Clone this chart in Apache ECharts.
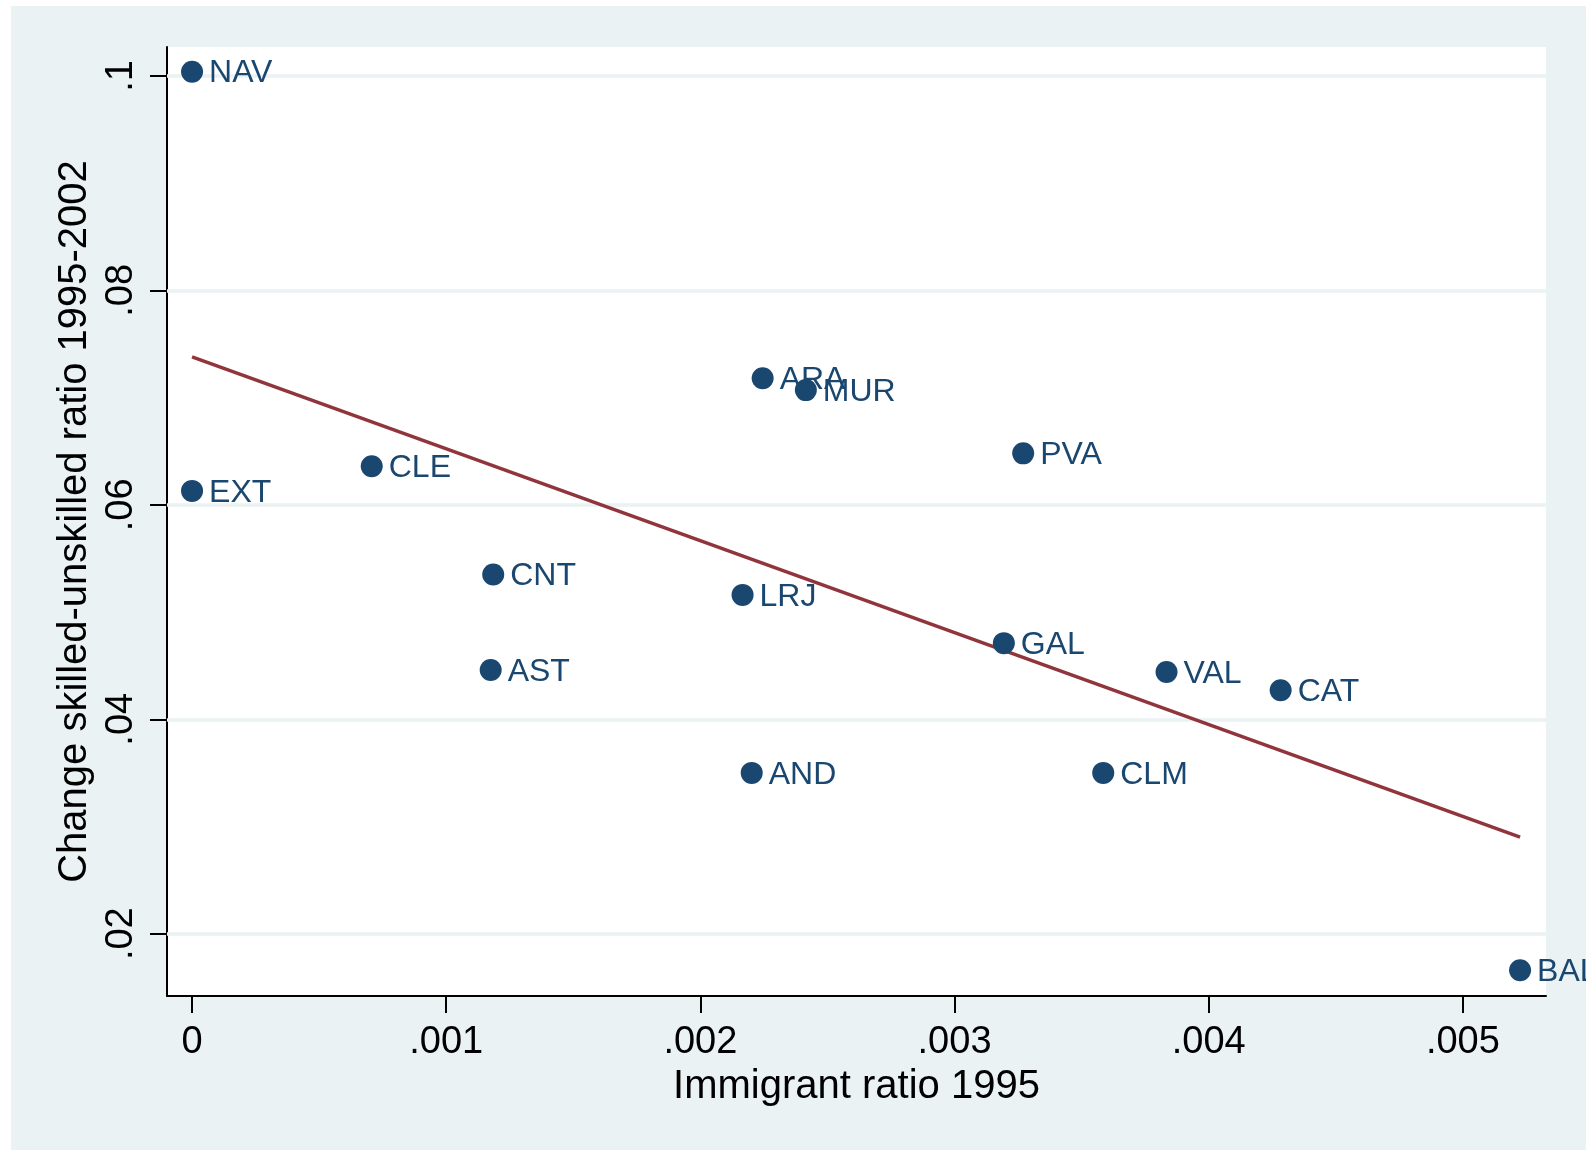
<!DOCTYPE html>
<html>
<head>
<meta charset="utf-8">
<script src="https://cdn.jsdelivr.net/npm/echarts@6/dist/echarts.min.js"></script>
<style>
html,body{margin:0;padding:0;background:#ffffff;}
#wrap{position:relative;width:1586px;height:1150px;}
#bg{position:absolute;left:11px;top:6px;right:0;bottom:0;background:#EAF2F3;}
#chart{position:absolute;left:0;top:0;width:1586px;height:1150px;}
</style>
</head>
<body>
<div id="wrap"><div id="bg"></div><div id="chart"></div></div>
<script>
// ---- data ----
const regions = ['NAV','EXT','CLE','CNT','AST','LRJ','AND','ARA','MUR','PVA','GAL','VAL','CAT','CLM','BAL'];
const immigrantRatio = [0, 0, 0.000707, 0.001185, 0.001175, 0.002166, 0.002202, 0.002245, 0.002415, 0.003270, 0.003194, 0.003834, 0.004283, 0.003585, 0.005225];
const skillChange = [0.1004, 0.0613, 0.0636, 0.0535, 0.0446, 0.0516, 0.0350, 0.0718, 0.0707, 0.0648, 0.0471, 0.0444, 0.0427, 0.0350, 0.0166];
const fitX = [0, 0.005225];
const fitY = [0.0738, 0.0290];
const xTickValues = [0, 0.001, 0.002, 0.003, 0.004, 0.005];
const xTickLabels = ['0', '.001', '.002', '.003', '.004', '.005'];
const yTickValues = [0.02, 0.04, 0.06, 0.08, 0.1];
const yTickLabels = ['.02', '.04', '.06', '.08', '.1'];
const xTitle = 'Immigrant ratio 1995';
const yTitle = 'Change skilled-unskilled ratio 1995-2002';

function lookup(vals, labels, v) {
  for (let i = 0; i < vals.length; i++) if (Math.abs(vals[i] - v) < 1e-9) return labels[i];
  return '';
}

const FONT = '"Liberation Sans", Arial, sans-serif';
const NAVY = '#1A476F';
const MAROON = '#90353B';
const BG = '#EAF2F3';

const chart = echarts.init(document.getElementById('chart'), null, {renderer: 'canvas'});
chart.setOption({
  animation: false,
  backgroundColor: 'transparent',
  textStyle: {fontFamily: FONT},
  grid: {
    left: 167, right: 40, top: 47, bottom: 154,
    show: true, backgroundColor: '#ffffff', borderWidth: 0,
    containLabel: false, outerBoundsMode: 'none'
  },
  xAxis: {
    type: 'value',
    min: -0.0000985, max: 0.005327,
    name: xTitle, nameLocation: 'middle', nameGap: 63,
    nameTextStyle: {color: '#000', fontSize: 40, fontFamily: FONT, lineHeight: 40},
    axisLine: {show: true, onZero: false, lineStyle: {color: '#000', width: 2}},
    axisTick: {show: true, length: 17, lineStyle: {color: '#000', width: 2}, customValues: xTickValues},
    axisLabel: {
      show: true, margin: 28, color: '#000', fontSize: 38, fontFamily: FONT, lineHeight: 38,
      customValues: xTickValues,
      formatter: v => lookup(xTickValues, xTickLabels, v)
    },
    splitLine: {show: false}
  },
  yAxis: {
    type: 'value',
    min: 0.01419, max: 0.1027,
    name: yTitle, nameLocation: 'middle', nameGap: 69, nameRotate: 90,
    nameTextStyle: {color: '#000', fontSize: 40, fontFamily: FONT, lineHeight: 40},
    axisLine: {show: true, onZero: false, lineStyle: {color: '#000', width: 2}},
    axisTick: {show: true, length: 17, lineStyle: {color: '#000', width: 2}, customValues: yTickValues},
    axisLabel: {
      show: true, margin: 26, rotate: 90, color: '#000', fontSize: 38, fontFamily: FONT, lineHeight: 38,
      customValues: yTickValues,
      formatter: v => lookup(yTickValues, yTickLabels, v)
    },
    splitLine: {show: false}
  },
  series: [
    {
      type: 'line', z: 1, data: [], silent: true,
      markLine: {
        z: 1, silent: true, symbol: ['none', 'none'], animation: false,
        label: {show: false},
        lineStyle: {color: BG, width: 3.5, type: 'solid'},
        emphasis: {disabled: true},
        data: yTickValues.map(v => ({yAxis: v}))
      }
    },
    {
      type: 'line', z: 3, silent: true, symbol: 'none',
      lineStyle: {color: MAROON, width: 3.5},
      data: fitX.map((x, i) => [x, fitY[i]])
    },
    {
      type: 'scatter', z: 4, silent: true, clip: false,
      symbol: 'circle', symbolSize: 22,
      itemStyle: {color: NAVY, opacity: 1},
      label: {
        show: true, position: 'right', distance: 6, offset: [0, 2],
        color: NAVY, fontSize: 32, fontFamily: FONT,
        formatter: p => regions[p.dataIndex]
      },
      data: immigrantRatio.map((x, i) => [x, skillChange[i]])
    }
  ]
});
</script>
</body>
</html>
